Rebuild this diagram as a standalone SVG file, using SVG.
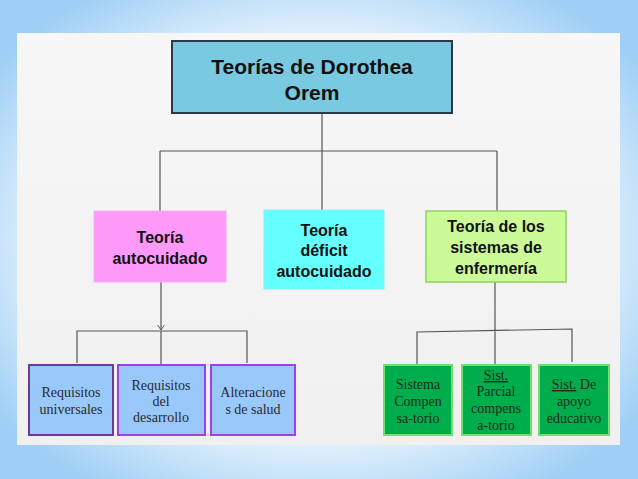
<svg xmlns="http://www.w3.org/2000/svg" width="638" height="479" viewBox="0 0 638 479">
<defs>
<radialGradient id="bg" cx="0.5" cy="0.5" r="0.62" fx="0.5" fy="0.5">
<stop offset="0" stop-color="#ffffff"/>
<stop offset="0.6" stop-color="#f4f9fe"/>
<stop offset="1" stop-color="#9fcff5"/>
</radialGradient>
<linearGradient id="panel" x1="0" y1="0" x2="0" y2="1">
<stop offset="0" stop-color="#f7f7f7"/>
<stop offset="1" stop-color="#f0f0f0"/>
</linearGradient>
<marker id="arr" viewBox="0 0 10 10" refX="9" refY="5" markerWidth="8" markerHeight="8" orient="auto" markerUnits="userSpaceOnUse">
<path d="M3,1 L9,5 L3,9" fill="none" stroke="#555" stroke-width="1.2"/>
</marker>
</defs>
<style>
.line{fill:none;stroke:#555;stroke-width:1.2}
.h{font-family:"Liberation Sans","DejaVu Sans",sans-serif;font-weight:bold;fill:#111;text-anchor:middle}
.s{font-family:"Liberation Serif","DejaVu Serif",serif;fill:#2a2a2a;text-anchor:middle;font-size:14px}
.g{font-family:"Liberation Serif","DejaVu Serif",serif;fill:#1a2a1a;text-anchor:middle;font-size:14px}
.blue{fill:#99c9fb;stroke-width:2}
.grn{fill:#00ad4c;stroke:#6fe06f;stroke-width:2}
</style>
<rect x="0" y="0" width="638" height="479" fill="url(#bg)"/>
<rect x="17" y="33" width="603" height="412" fill="url(#panel)"/>

<g id="connectors">
<path class="line" d="M322,113 V151 M160,151 H497 M160,151 V211 M322,151 V210 M497,151 V211"/>
<path class="line" d="M161,282 V330" marker-end="url(#arr)"/>
<path class="line" d="M77,363 V331 H247 V363 M161,331 V364"/>
<path class="line" d="M417,364 V332 L572,329 V362 M495,282 V364"/>
</g>

<g id="title">
<rect x="172" y="41" width="280" height="72" fill="#79c9e0" stroke="#2a3a4a" stroke-width="2"/>
<text class="h" x="312" y="74" font-size="21">Teorías de Dorothea</text>
<text class="h" x="312" y="100" font-size="21">Orem</text>
</g>

<g id="teoria-autocuidado">
<rect x="94" y="211" width="132" height="71" fill="#fd99f9" stroke="#f5b0f0" stroke-width="1"/>
<text class="h" x="160" y="243" font-size="16">Teoría</text>
<text class="h" x="160" y="264" font-size="16">autocuidado</text>
</g>

<g id="teoria-deficit">
<rect x="264" y="210" width="120" height="79" fill="#66ffff" stroke="#88eeee" stroke-width="1"/>
<text class="h" x="324" y="236" font-size="16">Teoría</text>
<text class="h" x="324" y="256" font-size="16">déficit</text>
<text class="h" x="324" y="277" font-size="16">autocuidado</text>
</g>

<g id="teoria-sistemas">
<rect x="426" y="211" width="140" height="71" fill="#ccfa99" stroke="#90d060" stroke-width="1.5"/>
<text class="h" x="496" y="232" font-size="16">Teoría de los</text>
<text class="h" x="496" y="253" font-size="16">sistemas de</text>
<text class="h" x="496" y="274" font-size="16">enfermería</text>
</g>

<g id="requisitos-universales">
<rect x="29" y="365" width="84" height="70" class="blue" stroke="#6a3a96"/>
<text class="s" x="71" y="397">Requisitos</text>
<text class="s" x="71" y="414">universales</text>
</g>

<g id="requisitos-desarrollo">
<rect x="118" y="365" width="87" height="70" class="blue" stroke="#a040ec"/>
<text class="s" x="161" y="390">Requisitos</text>
<text class="s" x="161" y="406">del</text>
<text class="s" x="161" y="422">desarrollo</text>
</g>

<g id="alteraciones">
<rect x="211" y="365" width="84" height="70" class="blue" stroke="#a040ec"/>
<text class="s" x="253" y="397">Alteracione</text>
<text class="s" x="253" y="414">s de salud</text>
</g>

<g id="sistema-compensatorio">
<rect x="384" y="365" width="68" height="70" class="grn"/>
<text class="g" x="418" y="389">Sistema</text>
<text class="g" x="418" y="406">Compen</text>
<text class="g" x="418" y="423">sa-torio</text>
</g>

<g id="sist-parcial">
<rect x="462" y="365" width="69" height="70" class="grn"/>
<text class="g" x="496" y="380" text-decoration="underline">Sist.</text>
<text class="g" x="496" y="396">Parcial</text>
<text class="g" x="496" y="413">compens</text>
<text class="g" x="496" y="430">a-torio</text>
</g>

<g id="sist-apoyo">
<rect x="539" y="365" width="70" height="70" class="grn"/>
<text class="g" x="574" y="389"><tspan text-decoration="underline">Sist.</tspan> De</text>
<text class="g" x="574" y="406">apoyo</text>
<text class="g" x="574" y="423">educativo</text>
</g>
</svg>
